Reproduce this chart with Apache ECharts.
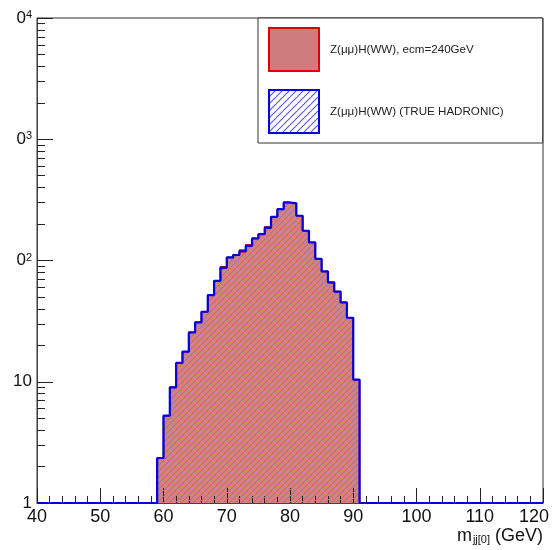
<!DOCTYPE html>
<html><head><meta charset="utf-8">
<script src="https://cdn.jsdelivr.net/npm/echarts@6/dist/echarts.min.js"></script>
<style>html,body{margin:0;padding:0;background:#fff}#c{width:559px;height:550px}</style>
</head><body><div id="c"></div>
<script>
// ---- data ----
const xMin = 40, xMax = 120, binWidth = 1;
const firstBinEdge = 59;            // lower edge of first filled bin (GeV)
const yFloor = 1;                   // log-axis floor; empty bins are drawn here
// Z(mumu)H(WW), ecm=240GeV  (counts per 1 GeV bin, starting at 59 GeV)
const countsAll = [2.35, 5.25, 9.0, 14.3, 17.7, 25.5, 30.9, 37.8, 51.9, 68, 88.7, 106, 111, 122, 135, 152, 165, 190, 229, 265, 301, 296, 234, 176, 141, 103, 81.3, 66, 55.4, 45.1, 33.7, 10.4];
// Z(mumu)H(WW) (TRUE HADRONIC)
const countsHad = [2.35, 5.25, 9.0, 14.3, 17.7, 25.5, 30.9, 37.8, 51.9, 68, 87, 106, 111, 119, 132, 152, 165, 186, 229, 265, 301, 296, 234, 176, 141, 103, 81.3, 66, 55.4, 45.1, 33.7, 10.4];
const seriesNames = ['Z(\u03bc\u03bc)H(WW), ecm=240GeV', 'Z(\u03bc\u03bc)H(WW) (TRUE HADRONIC)'];
const xTickValues = [40, 50, 60, 70, 80, 90, 100, 110, 120];
const xTickLabels = ['40', '50', '60', '70', '80', '90', '100', '110', '120'];
const xTitle = ['m', 'jj[0]', ' (GeV)'];
const yTickValues = [1, 10, 100, 1000, 10000];
const yLabelBase = ['1', '10', '0', '0', '0'];
const yLabelExp = ['', '', '2', '3', '4'];
const yMinorTicks = [2,3,4,5,6,7,8,9,20,30,40,50,60,70,80,90,200,300,400,500,600,700,800,900,2000,3000,4000,5000,6000,7000,8000,9000];

// ---- build step points through the axis scale ----
function buildPoints(counts) {
  const pts = [];
  for (let e = xMin; e < xMax; e += binWidth) {
    const i = Math.round((e - firstBinEdge) / binWidth);
    const v = (i >= 0 && i < counts.length && counts[i] > 0) ? counts[i] : yFloor;
    pts.push([e, v]);
  }
  pts.push([xMax, yFloor]);
  return pts;
}

// ---- fill patterns ----
function makeCrispHatch(bg, col, n) {
  const c = document.createElement('canvas'); c.width = n; c.height = n;
  const g = c.getContext('2d');
  if (bg) { g.fillStyle = bg; g.fillRect(0, 0, n, n); }
  g.fillStyle = col;
  for (let i = 0; i < n; i++) g.fillRect(i, n - 1 - i, 1, 1);
  return c;
}
function makeHatch(bg, col, n, lw) {
  const c = document.createElement('canvas'); c.width = n; c.height = n;
  const g = c.getContext('2d');
  if (bg) { g.fillStyle = bg; g.fillRect(0, 0, n, n); }
  g.strokeStyle = col; g.lineWidth = lw;
  g.beginPath();
  g.moveTo(-1, n + 1); g.lineTo(n + 1, -1);
  g.moveTo(-1 - n, n + 1); g.lineTo(1, -1);
  g.moveTo(n - 1, 2 * n + 1); g.lineTo(2 * n + 1, n - 1);
  g.stroke();
  return c;
}
const redFill = '#d3807f';
const redLegendFill = '#cf7c7e';
const bluePattern = { image: makeCrispHatch(null, '#7a78d8', 6), repeat: 'repeat' };
const blueLegendPattern = { image: makeHatch('#ffffff', 'rgba(70,70,215,0.9)', 7, 1.1), repeat: 'repeat' };

const FONT = 'Liberation Sans, Arial, Helvetica, sans-serif';
const chart = echarts.init(document.getElementById('c'), null, { renderer: 'canvas' });
chart.setOption({
  animation: false,
  backgroundColor: '#fff',
  textStyle: { fontFamily: FONT },
  grid: { left: 37, right: 16, top: 18, bottom: 47, outerBoundsMode: 'none', containLabel: false, show: true, borderColor: '#333', borderWidth: 1, backgroundColor: 'transparent' },
  legend: {
    orient: 'vertical', left: 258, top: 18,
    padding: [9, 39, 9, 10], itemGap: 17, itemWidth: 50, itemHeight: 43,
    borderColor: '#333', borderWidth: 1, borderRadius: 0, backgroundColor: '#fff',
    selectedMode: false,
    textStyle: { fontSize: 11.6, color: '#222', fontFamily: FONT, padding: [0, 0, 0, 6] },
    data: [
      { name: seriesNames[0], icon: 'rect', itemStyle: { color: redLegendFill, borderColor: '#e00000', borderWidth: 2 } },
      { name: seriesNames[1], icon: 'rect', itemStyle: { color: blueLegendPattern, borderColor: '#0000dd', borderWidth: 2 } }
    ]
  },
  graphic: [{
    type: 'text', right: 16, top: 527, z: 10,
    style: {
      text: '{m|' + xTitle[0] + '}{s|' + xTitle[1] + '}{g|' + xTitle[2] + '}',
      fill: '#111',
      rich: {
        m: { fontSize: 18, fill: '#111', fontFamily: FONT, verticalAlign: 'bottom' },
        s: { fontSize: 11, fill: '#111', fontFamily: FONT, verticalAlign: 'bottom', padding: [0, 0, 0, 1], lineHeight: 14 },
        g: { fontSize: 18, fill: '#111', fontFamily: FONT, verticalAlign: 'bottom' }
      }
    }
  }],
  xAxis: {
    type: 'value', min: xMin, max: xMax, interval: 10, z: 5,
    axisLine: { show: true, onZero: false, lineStyle: { color: '#444', width: 1 } },
    axisTick: { show: true, inside: true, length: 15, lineStyle: { color: '#222' } },
    minorTick: { show: true, splitNumber: 5, length: 7, lineStyle: { color: '#222' } },
    splitLine: { show: false },
    axisLabel: {
      margin: 5, fontSize: 18, color: '#111', fontFamily: FONT,
      formatter: v => { const i = xTickValues.indexOf(v); const t = i >= 0 ? xTickLabels[i] : ''; return v === xMax ? '{r|' + t + '}' : t; },
      rich: { r: { fontSize: 18, color: '#111', padding: [0, 18, 0, 0] } }
    }
  },
  yAxis: [{
    type: 'log', logBase: 10, min: 1, max: 10000, z: 5,
    axisLine: { show: true, lineStyle: { color: '#444', width: 1 } },
    axisTick: { show: true, inside: true, length: 16, lineStyle: { color: '#222' } },
    splitLine: { show: false },
    axisLabel: {
      margin: 5, color: '#111', fontSize: 17, fontFamily: FONT,
      formatter: v => { const i = yTickValues.findIndex(t => Math.abs(t - v) < 1e-6 * t); if (i < 0) return ''; return yLabelExp[i] ? '{b|' + yLabelBase[i] + '}{p|' + yLabelExp[i] + '}' : yLabelBase[i]; },
      rich: {
        b: { fontSize: 17, color: '#111', fontFamily: FONT },
        p: { fontSize: 11, color: '#111', fontFamily: FONT, verticalAlign: 'top' }
      }
    }
  }, {
    type: 'log', logBase: 10, min: 1, max: 10000, position: 'left', z: 5,
    axisLine: { show: false },
    axisTick: { show: true, inside: true, length: 8, customValues: yMinorTicks, lineStyle: { color: '#222' } },
    axisLabel: { show: false },
    splitLine: { show: false }
  }],
  series: [{
    name: seriesNames[0], type: 'line', step: 'end', yAxisIndex: 0, z: 2,
    data: buildPoints(countsAll), showSymbol: false, symbol: 'none',
    lineStyle: { color: '#cc0000', width: 1.5 },
    itemStyle: { color: '#dd0000' },
    areaStyle: { color: redFill, opacity: 1, origin: 'start' }
  }, {
    name: seriesNames[1], type: 'line', step: 'end', yAxisIndex: 0, z: 6, clip: false,
    data: buildPoints(countsHad), showSymbol: false, symbol: 'none',
    lineStyle: { color: '#0000e0', width: 2.2 },
    itemStyle: { color: '#0000e0' },
    areaStyle: { color: bluePattern, opacity: 1, origin: 'start' }
  }]
});
</script></body></html>
